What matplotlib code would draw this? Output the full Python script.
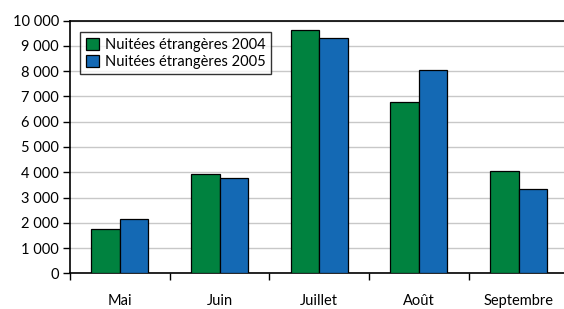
import matplotlib.pyplot as plt
import numpy as np
from matplotlib.ticker import FuncFormatter

months = ["Mai", "Juin", "Juillet", "Août", "Septembre"]
nuitees_2004 = [1740, 3950, 9620, 6770, 4040]
nuitees_2005 = [2150, 3780, 9300, 8040, 3330]
labels = ["Nuitées étrangères 2004", "Nuitées étrangères 2005"]

plt.rcParams['font.family'] = ['Lato', 'DejaVu Sans']

fig = plt.figure(figsize=(5.64, 3.09), dpi=100)
ax = fig.add_axes([70 / 564, 1 - 273.3 / 309, 498.5 / 564, 252.6 / 309])

x = np.arange(len(months))
w = 0.286
ax.bar(x - w / 2, nuitees_2004, w, color='#00823f', edgecolor='black', lw=0.9,
       label=labels[0], zorder=3)
ax.bar(x + w / 2, nuitees_2005, w, color='#1469b4', edgecolor='black', lw=0.9,
       label=labels[1], zorder=3)

ax.set_xlim(-0.5, len(months) - 0.5)
ax.set_ylim(0, 10000)
ax.set_yticks(np.arange(0, 10001, 1000))
ax.yaxis.set_major_formatter(FuncFormatter(lambda v, p: f"{int(v):,}".replace(",", " ")))
ax.grid(axis='y', color='#c8c8c8', lw=1, zorder=0)

ax.set_xticks(np.arange(-0.5, len(months), 1))
ax.set_xticklabels([])
ax.set_xticks(x, minor=True)
ax.set_xticklabels(months, minor=True)
ax.tick_params(axis='x', which='minor', length=0, pad=15, labelsize=10.5)
ax.tick_params(axis='x', which='major', length=5, direction='out', width=1)
ax.tick_params(axis='y', length=5, width=1, labelsize=10.5, pad=3)

for s in ax.spines.values():
    s.set_linewidth(1.2)
ax.spines['right'].set_visible(False)

leg = ax.legend(loc='upper left', bbox_to_anchor=(10 / 498.5, 1 - 11 / 252.6),
                fancybox=False, edgecolor='black', fontsize=10.5,
                handlelength=0.9, handleheight=0.9, handletextpad=0.4,
                borderpad=0.4, labelspacing=0.2, borderaxespad=0)
leg.get_frame().set_linewidth(1)

fig.savefig("out.png", dpi=100)
